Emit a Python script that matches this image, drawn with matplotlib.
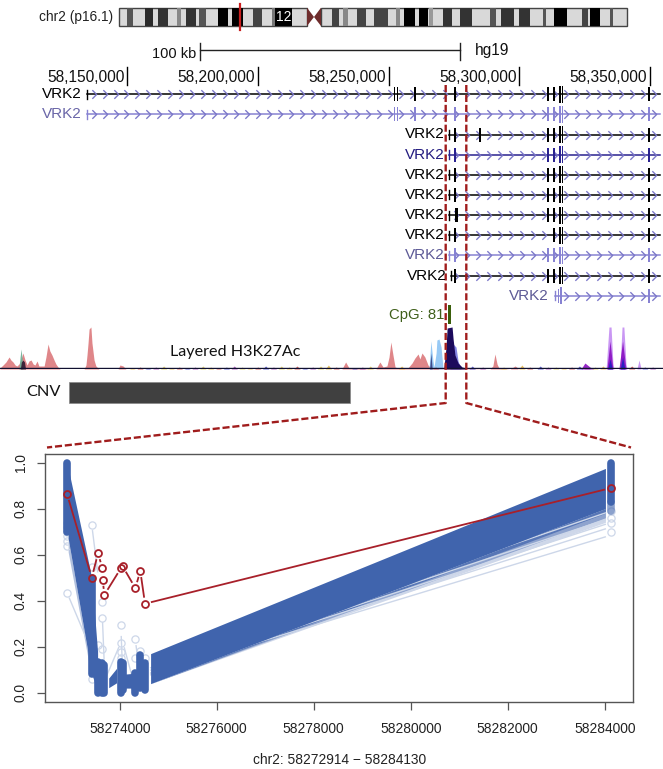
import numpy as np
import matplotlib
matplotlib.use("Agg")
import matplotlib.pyplot as plt
from matplotlib.path import Path

plt.rcParams['font.family'] = ['Liberation Sans', 'DejaVu Sans']

W, H = 663, 769

# ---------- ideogram (band start, band end, grey) ----------
band_start = [127,145,158,177,186,199,218,232,253,272,275,332,343,357,374,396,404,419,429,443,460,490,501,519,543,554,582,590,610]
band_end   = [133,153,168,181,196,206,228,243,262,275,292,339,348,366,388,400,415,428,433,452,472,496,514,530,546,567,588,600,613]
band_grey  = ['#555555','#2a2a2a','#333333','#888888','#333333','#555555','#000000','#000000','#444444','#777777','#000000',
              '#444444','#888888','#444444','#444444','#888888','#000000','#000000','#999999','#333333','#333333','#555555',
              '#333333','#333333','#555555','#000000','#444444','#000000','#555555']

# ---------- genome tracks (kb offset from 58,100 kb) ----------
genome_ticks = [50, 100, 150, 200, 250]
genome_tick_labels = ['58,150,000', '58,200,000', '58,250,000', '58,300,000', '58,350,000']
long_start, long_end = 34.7, 253.8
tail = [(211.0,1.1),(213.3,.7),(215.6,.5),(216.5,.5),(249.6,.5)]
long_exons = [(152.4,.35),(153.4,.35),(160.1,.5),(175.4,.5)]
BK, PU, NV = '#000000', '#8782d2', '#2a2290'
row_names = ['VRK2'] * 11
row_label_colors = [BK,'#6a66a8',BK,'#241c80',BK,BK,BK,BK,'#5d5a96',BK,'#5d5a96']
row_line_colors  = [BK,PU,BK,NV,BK,BK,BK,BK,PU,BK,PU]
row_start = [long_start,long_start,173.3,173.3,173.3,173.3,173.3,173.3,173.3,173.9,213.7]
row_exons = [long_exons+tail, long_exons+tail,
             [(175.4,.5),(185.0,.5)]+tail, [(175.4,.5)]+tail,
             [(175.4,.5)]+tail, [(175.4,.5)]+tail,
             [(176.0,.8)]+tail, [(175.4,.5),(211.0,.3)]+tail[1:],
             [(175.4,.5)]+tail, [(175.4,.8)]+tail,
             [(214.9,.5),(216.0,.5),(249.6,.5)]]
row_label_right = [82,82,445,445,445,445,445,445,445,447,549]

# ---------- layered H3K27Ac signal (kb offset, height) ----------
red_x = [1.4,2.6,3.7,4.9,5.6,6.4,7.2,7.9,8.7,9.5,10.2,11.0,11.8,12.5,13.3,14.1,14.8,15.6,16.3,17.1,18.3,19.0,19.8,20.5,21.3,22.1,22.8,23.6,24.4,33.6,34.3,34.7,35.1,35.5,36.2,36.6,37.4,38.1,39.3,46.6,47.3,48.5,49.6,132.2,133.6,134.9,145.2,146.7,147.9,149.4,150.2,150.9,151.7,152.5,153.6,157.4,159,160.1,161.3,162.0,162.8,163.9,165.1,166.2,188.8,189.9,190.7,191.5,192.2,196.5,198.4,199.5]
red_y = [1,4,7,12,9,7,4,3,5,10,16,9,4,8,9,5,4,8,3,3,3,12,25,18,14,9,5,2,0,0,4,14,26,40,42,26,9,3,0,0,4,3,0,0,7,1,0,7,2,3,12,27,14,2,1,1,6,11,15,10,16,12,4,1,0,3,15,5,1,0,3,1]
teal_x = [8.7,9.1,9.5,9.9,10.2]
teal_y = [0,12,20,10,0]
dark_x = [9.2,9.6,10.2,10.8,11.2]
dark_y = [0,7,9,7,0]
lblue_x = [165.5,166.2,167.0,167.4,168.2,168.5,169.3,170.1,170.8]
lblue_y = [0,28,8,2,16,29,30,22,2]
navy_x = [171.2,172,172.4,174.3,174.7,175.4,176.6,178.1,179.6]
navy_y = [2,22,41,42,30,14,6,2,1]
navy2_x = [165.7,166.2,166.7]
navy2_y = [0,16,0]
mblue_x = [173.5,174.7,175.8,176.6,177.7]
mblue_y = [0,25,22,8,0]
lpurple_x = [233.2,234.3,235.1,235.8,236.2,238.5,239.3,240,240.8,241.2,245,245.8,246.6]
lpurple_y = [0,42,42,6,0,0,42,42,5,0,0,9,0]
dpurple_x = [233.5,234.7,235.8,238.1,239.5,240.8,223.6,225.1,227,228.6]
dpurple_y = [0,28,0,0,28,0,0,6,2,0]
pblue_x = [233.8,234.7,235.6,238.6,239.5,240.4]
pblue_y = [0,10,0,0,12,0]
noise_x = [52,55,58,61,64,67,70,73,76,79,82,85,88,91,94,97,100,103,106,109,112,115,118,121,124,127,130,137,140,143,155,168,182,186,194,201,204,208,211,214,217,220,223,226,229,232,243,248,251]
noise_h = [1,2,1,2,3,1,2,1,2,3,2,1,2,3,2,1,2,3,2,3,2,3,1,2,3,4,2,1,2,3,3,2,3,2,2,4,2,3,2,2,1,2,3,2,2,3,3,2,2]
noise_palette = ['#e8c060','#d06060','#6060d0','#b060c0','#e0d070']

# ---------- methylation panel ----------
cpg_pos = [58272914,58273424,58273560,58273642,58273683,58274027,58274062,58274322,58274425,58274522,58284130]
col_hi  = [1.0,.50,.135,.13,.12,.135,.13,.085,.165,.127,1.0]
col_lo  = [.70,.08,.0,.0,.0,.0,.01,.0,.02,.012,.83]
seg_from_hi = [1.0,.50,.135,.13,.04,.135,.08,.085,.165,.16]
seg_from_lo = [.70,.08,.0,.0,.01,.0,.02,.0,.02,.03]
seg_to_hi   = [.50,.135,.13,.12,.13,.13,.085,.165,.127,.985]
seg_to_lo   = [.08,.0,.0,.0,.055,.01,.02,.02,.012,.81]
red_vals = [.864,.50,.606,.542,.491,.425,.542,.549,.455,.529,.387,.89]
red_pos  = [58272914,58273424,58273553,58273642,58273650,58273683,58274027,58274062,58274322,58274425,58274522,58284130]
faint_pos = [0,0,0,0,0,0,0,1,1,1,2,3,3,3,5,5,5,5,7,7,8,9,10,10,10,10]
faint_val = [.74,.72,.70,.68,.66,.64,.435,.73,.548,.06,.207,.393,.326,.19,.293,.215,.178,.15,.232,.15,.18,.152,.79,.76,.74,.70]
faint_seg_i  = [0,1,3,4,5,6,7,9,9,9,9,9]
faint_seg_v0 = [.435,.73,.33,.05,.27,.22,.23,.10,.09,.08,.075,.07]
faint_seg_v1 = [.18,.50,.12,.22,.08,.02,.06,.79,.76,.74,.72,.685]
yticks = [0.0,0.2,0.4,0.6,0.8,1.0]
xticks = [58274000,58276000,58278000,58280000,58282000,58284000]

fig = plt.figure(figsize=(W/100, H/100), dpi=100)
ov = fig.add_axes([0,0,1,1], zorder=5)
ov.set_xlim(0,W); ov.set_ylim(H,0); ov.axis('off'); ov.patch.set_alpha(0)

# ideogram
ov.add_patch(plt.Rectangle((118.5,7.7),188.5,18.3,fc='#d9d9d9',ec='#444444',lw=1.0))
ov.add_patch(plt.Rectangle((321,7.7),306,18.3,fc='#d9d9d9',ec='#444444',lw=1.0))
for s,e,g in zip(band_start,band_end,band_grey):
    ov.add_patch(plt.Rectangle((s,8.2),e-s,17.3,fc=g,ec='none'))
ov.fill([307,314,307],[7.7,17,26],fc='#6e2c2c',ec='none')
ov.fill([321,314,321],[7.7,17,26],fc='#6e2c2c',ec='none')
ov.plot([240,240],[3.7,30],color='#c81e1e',lw=1.6)
ov.text(284,17,'12',color='white',fontsize=10,ha='center',va='center')
ov.text(113,17.5,'chr2 (p16.1)',fontsize=9.9,ha='right',va='center',color='#222222')

# scale bar
ov.plot([200,460],[50,50],color='#222222',lw=1.0)
ov.plot([200,200],[43,60],color='#222222',lw=1.0)
ov.plot([460,460],[43,60],color='#222222',lw=1.0)
ov.text(196,54,'100 kb',fontsize=10.5,ha='right',va='center',color='#111111')
ov.text(475,50,'hg19',fontsize=11.2,ha='left',va='center',color='#111111')

# genome axes
kb = lambda px: 1.43 + .3824*px
gen = fig.add_axes([0,0,1,1], zorder=2)
gen.set_xlim(kb(0),kb(W)); gen.set_ylim(H,0); gen.axis('off'); gen.patch.set_alpha(0)
for t,l in zip(genome_ticks,genome_tick_labels):
    gen.plot([t,t],[67,85],color='black',lw=1.0)
    gen.annotate(l,(t,77),xytext=(-2,0),textcoords='offset points',ha='right',va='center',fontsize=11.2,color='#111111')

chev = Path([(-.5,1),(.5,0),(-.5,-1)],[Path.MOVETO,Path.LINETO,Path.LINETO])
grid = np.arange(long_start+2.5,long_end,4.2)
for i,(nm,lc,tc,st,ex,lr) in enumerate(zip(row_names,row_label_colors,row_line_colors,row_start,row_exons,row_label_right)):
    y = 94.2+20.15*i
    gen.plot([st,long_end],[y,y],color=tc,lw=1.1,zorder=2)
    gen.plot([st,st],[y-4.5,y+4.5],color=tc,lw=1.0,zorder=3)
    g = grid[grid>st+1]
    gen.plot(g,np.full(g.size,y),ls='none',marker=chev,ms=6.2,mfc='none',mec='#7a76c8',mew=.95,zorder=3)
    for x,w in ex:
        tall = 215 < x < 217
        gen.bar(x,17 if tall else 14,width=w,bottom=y-(8.5 if tall else 7),color=tc,lw=0,zorder=4)
    ov.text(lr,y,nm,color=lc,fontsize=11,ha='right',va='center')

# CpG + H3K27Ac
ov.text(444,315,'CpG: 81',color='#3f5f1a',fontsize=10.7,ha='right',va='center')
ov.add_patch(plt.Rectangle((448,305),3,19,fc='#3a5f0b',ec='none'))
sig = fig.add_axes([0,(H-369)/H,1,74/H],zorder=1)
sig.set_xlim(kb(0),kb(W)); sig.set_ylim(0,74); sig.axis('off'); sig.patch.set_alpha(0)
sig.fill_between(red_x,red_y,color='#d8686c',alpha=.8,lw=0)
sig.fill_between(teal_x,teal_y,color='#6aae94',alpha=.9,lw=0)
sig.fill_between(dark_x,dark_y,color='#301830',alpha=.9,lw=0)
sig.fill_between(lblue_x,lblue_y,color='#8cc4f4',alpha=.9,lw=0)
sig.fill_between(mblue_x,mblue_y,color='#7878e0',alpha=.9,lw=0)
sig.fill_between(navy_x,navy_y,color='#1c0a5c',lw=0)
sig.fill_between(navy2_x,navy2_y,color='#2a2a70',alpha=.8,lw=0)
sig.fill_between(lpurple_x,lpurple_y,color='#c48cf2',alpha=.9,lw=0)
sig.fill_between(dpurple_x,dpurple_y,color='#8a10c0',alpha=.9,lw=0)
sig.fill_between(pblue_x,pblue_y,color='#2020c0',alpha=.9,lw=0)
for i,(x,h) in enumerate(zip(noise_x,noise_h)):
    sig.fill_between([x-1.2,x,x+1.2],[0,h,0],color=noise_palette[i%len(noise_palette)],lw=0)
sig.plot([kb(0),kb(W)],[.7,.7],color='#101030',lw=1.0)
ov.text(235.5,352,'Layered H3K27Ac',family='Lato',fontsize=11.6,ha='center',va='center',color='#111111')
ov.text(43.5,392,'CNV',family='Lato',fontsize=11.8,ha='center',va='center',color='#111111')
ov.add_patch(plt.Rectangle((68.5,381.7),281.2,21.6,fc='#404040',ec='#888888',lw=.5))

# dashed zoom guides
dash = dict(color='#a01c1c',lw=1.7,dashes=(3,1.2))
ov.plot([445.7,445.7,47],[85,403,447.5],**dash)
ov.plot([466.3,466.3,631],[85,403,447.5],**dash)

# methylation panel
L,R,T,B = 45.3,633,453.5,701.7
ax = fig.add_axes([L/W,(H-B)/H,(R-L)/W,(B-T)/H],zorder=3)
ax.set_xlim(58274000-(119.7-L)/.0485, 58274000+(R-119.7)/.0485)
ax.set_ylim((692.7-B)/230,(692.7-T)/230)

def trim(x0,y0,x1,y1,gap=6.0):
    p0 = ax.transData.transform((x0,y0)); p1 = ax.transData.transform((x1,y1))
    d = np.hypot(*(p1-p0))
    if d < 2*gap+1:
        return None
    return gap/d

BLUE = '#4064ad'
FAINT = '#cdd7e9'
for i in range(len(cpg_pos)-1):
    x0,x1 = cpg_pos[i],cpg_pos[i+1]
    t = trim(x0,(seg_from_hi[i]+seg_from_lo[i])/2,x1,(seg_to_hi[i]+seg_to_lo[i])/2)
    t = t if t is not None else 0.0
    xs = [x0+t*(x1-x0),x1-t*(x1-x0)]
    hi = [seg_from_hi[i]+t*(seg_to_hi[i]-seg_from_hi[i]),seg_to_hi[i]-t*(seg_to_hi[i]-seg_from_hi[i])]
    lo = [seg_from_lo[i]+t*(seg_to_lo[i]-seg_from_lo[i]),seg_to_lo[i]-t*(seg_to_lo[i]-seg_from_lo[i])]
    ax.fill_between(xs,lo,hi,color=BLUE,lw=0,zorder=3)
    if i == 9:
        for extra,a in zip([.02,.04,.06],[.7,.45,.25]):
            ax.fill_between(xs,[lo[0],lo[1]-extra],lo,color=BLUE,alpha=a,lw=0,zorder=2)
    if i == 0:
        ax.fill_between(xs,[lo[0]-.06,lo[1]-.02],lo,color=BLUE,alpha=.4,lw=0,zorder=2)

for i,v0,v1 in zip(faint_seg_i,faint_seg_v0,faint_seg_v1):
    x0,x1 = cpg_pos[i],cpg_pos[i+1]
    t = trim(x0,v0,x1,v1) or 0.0
    ax.plot([x0+t*(x1-x0),x1-t*(x1-x0)],[v0+t*(v1-v0),v1-t*(v1-v0)],color=FAINT,lw=1.0,zorder=2)

ax.plot([cpg_pos[k] for k in faint_pos],faint_val,ls='none',marker='o',ms=5.2,mfc='none',mec=FAINT,mew=.9,zorder=2)
for x,h,l in zip(cpg_pos,col_hi,col_lo):
    ax.plot([x,x],[l,h],color=BLUE,lw=5.5,solid_capstyle='round',zorder=4)
ax.plot([cpg_pos[-1]]*2,[.83,.79],color=BLUE,alpha=.6,lw=5.5,solid_capstyle='round',zorder=3)

RED = '#a8202a'
for i in range(len(red_pos)-1):
    t = trim(red_pos[i],red_vals[i],red_pos[i+1],red_vals[i+1],gap=7.0)
    if t is None:
        continue
    x0,x1,v0,v1 = red_pos[i],red_pos[i+1],red_vals[i],red_vals[i+1]
    ax.plot([x0+t*(x1-x0),x1-t*(x1-x0)],[v0+t*(v1-v0),v1-t*(v1-v0)],color=RED,lw=1.3,zorder=5)
ax.plot(red_pos,red_vals,ls='none',marker='o',ms=5.0,mfc='none',mec=RED,mew=1.3,zorder=6)

for s in ax.spines.values():
    s.set_color('#555555'); s.set_linewidth(1.0)
ax.set_xticks(xticks); ax.set_xticklabels([str(v) for v in xticks],fontsize=9.9,color='#222222')
ax.set_yticks(yticks); ax.set_yticklabels(['%.1f'%v for v in yticks],fontsize=9.9,rotation=90,va='center',color='#222222')
ax.tick_params(axis='both',length=5.6,width=.9,color='#555555')
ax.tick_params(axis='x',pad=9)
ax.tick_params(axis='y',pad=7)
ov.text(340,760.5,'chr2: 58272914 \u2212 58284130',fontsize=9.9,ha='center',va='center',color='#222222')

fig.savefig('out.png',dpi=100)
